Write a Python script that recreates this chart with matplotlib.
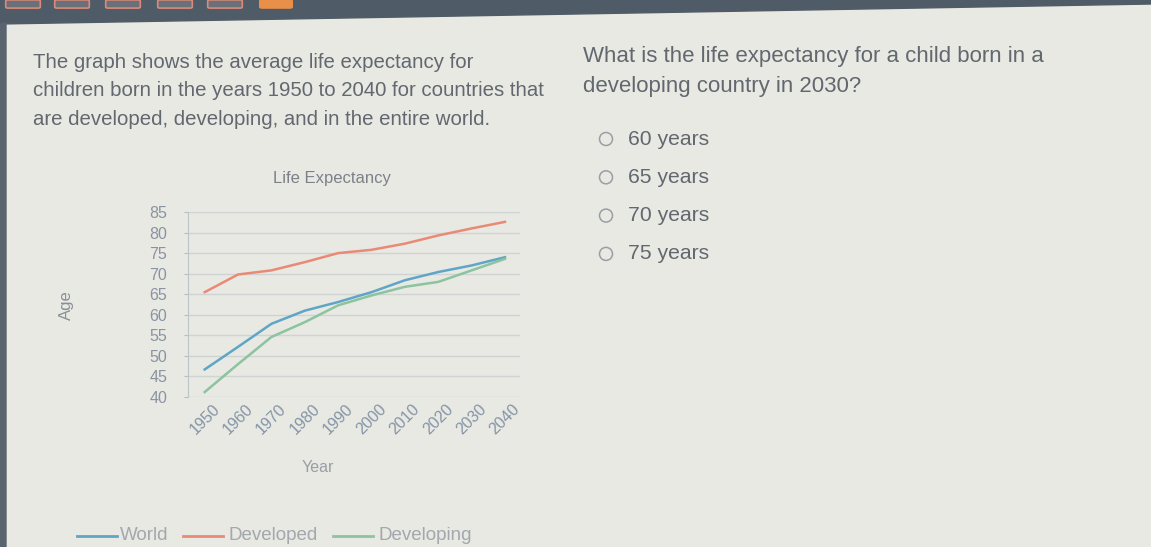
import matplotlib.pyplot as plt
from matplotlib.patches import Polygon, FancyBboxPatch, Circle
from matplotlib.lines import Line2D

plt.rcParams['font.family'] = ['Liberation Sans', 'DejaVu Sans']

W, H = 1151, 547

years = [1950, 1960, 1970, 1980, 1990, 2000, 2010, 2020, 2030, 2040]
world = [46.7, 52.2, 57.8, 61.0, 63.1, 65.5, 68.4, 70.4, 72.0, 74.0]
developed = [65.5, 69.8, 70.8, 72.8, 75.0, 75.8, 77.3, 79.3, 81.0, 82.6]
developing = [41.2, 48.0, 54.6, 58.2, 62.3, 64.7, 66.8, 68.0, 70.8, 73.6]

series_names = ['World', 'Developed', 'Developing']
series_colors = ['#5fa6c6', '#e88a76', '#8cc3a0']

intro = ["The graph shows the average life expectancy for",
         "children born in the years 1950 to 2040 for countries that",
         "are developed, developing, and in the entire world."]
question = ["What is the life expectancy for a child born in a",
            "developing country in 2030?"]
choices = ['60 years', '65 years', '70 years', '75 years']


def px(x, y):
    """pixel position (from top-left) -> figure fraction"""
    return x / W, 1 - y / H


fig = plt.figure(figsize=(W / 100, H / 100), dpi=100)
fig.patch.set_facecolor('#e8e9e2')

# dark band at the top of the photo and dark edge on the left
top = Polygon([px(0, 0), px(W, 0), px(W, 4), px(0, 24)], closed=True,
              transform=fig.transFigure, color='#4f5b66', zorder=0)
fig.patches.append(top)
left = Polygon([px(0, 24), px(6, 23), px(6, H), px(0, H)], closed=True,
               transform=fig.transFigure, color='#5a6470', zorder=0)
fig.patches.append(left)
for x0 in [8, 57, 108, 160, 210]:
    fig.patches.append(FancyBboxPatch(px(x0, 7), 30 / W, 6 / H,
                                      boxstyle='round,pad=0.002',
                                      transform=fig.transFigure, fc='#6a6f78',
                                      ec='#d98a78', lw=1.2, zorder=1))
fig.patches.append(FancyBboxPatch(px(262, 7), 28 / W, 6 / H,
                                  boxstyle='round,pad=0.002',
                                  transform=fig.transFigure, fc='#e8904a',
                                  ec='#e8904a', lw=1, zorder=1))

text_color = '#626770'
for i, line in enumerate(intro):
    fig.text(*px(33, 68 + i * 28.5), line, fontsize=14.7, color=text_color,
             va='baseline')
for i, line in enumerate(question):
    fig.text(*px(583, 62 + i * 30), line, fontsize=16, color=text_color,
             va='baseline')

for i, c in enumerate(choices):
    cy = 139 + i * 38.3
    fig.patches.append(Circle((606, H - cy), 6.5, transform=None,
                              fill=False, ec='#9a9ea5', lw=1.1))
    fig.text(*px(628, cy), c, fontsize=15.2, color=text_color, va='center')

# chart
ax = fig.add_axes([188 / W, 1 - 397 / H, 332 / W, 185 / H])
ax.set_facecolor('none')
for vals, name, col in zip([world, developed, developing], series_names,
                           series_colors):
    ax.plot(years, vals, color=col, lw=1.8, label=name)

ax.set_xlim(1945, 2044.5)
ax.set_ylim(40, 85)
ax.set_yticks(range(40, 90, 5))
ax.set_xticks(years)
ax.set_xticklabels([str(y) for y in years], rotation=45, ha='center',
                   va='top')
ax.tick_params(axis='x', length=0, labelsize=11.5, labelcolor='#8594a8',
               pad=3)
ax.tick_params(axis='y', length=3, color='#b8bdc4', labelsize=11.5,
               labelcolor='#8a93a2', pad=12)
ax.grid(axis='y', color='#cfd3d4', lw=1)
for s in ['top', 'right', 'bottom']:
    ax.spines[s].set_visible(False)
ax.spines['left'].set_color('#bfc4ca')

fig.text(*px(318, 468), 'Year', fontsize=11.5, color='#9a9ea6',
         ha='center', va='center')
fig.text(*px(66, 305), 'Age', rotation=90, fontsize=12, color='#8a8f98',
         ha='center', va='center')
fig.text(*px(332, 179), 'Life Expectancy', fontsize=12, color='#7c818a',
         ha='center', va='center')

# legend along the bottom edge
leg_x = [(77, 120), (183, 228), (333, 378)]
for (lx, tx), name, col in zip(leg_x, series_names, series_colors):
    fig.lines.append(Line2D([lx / W, (lx + 40) / W], [1 - 536 / H] * 2,
                            transform=fig.transFigure, color=col, lw=2))
    fig.text(*px(tx, 536), name, fontsize=13.5, color='#a3a7ae',
             va='center')

fig.savefig('out.png', dpi=100, facecolor=fig.get_facecolor())
